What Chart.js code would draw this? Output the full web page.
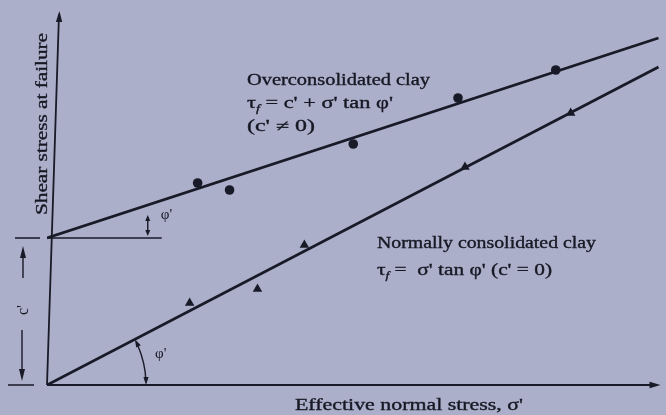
<!DOCTYPE html>
<html>
<head>
<meta charset="utf-8">
<script src="https://cdn.jsdelivr.net/npm/chart.js@4.4.1/dist/chart.umd.min.js"></script>
<style>
  html, body { margin: 0; padding: 0; background: #abafca; }
  #chart { display: block; filter: blur(0.45px); }
</style>
</head>
<body>
<canvas id="chart" width="666" height="415"></canvas>
<script>
// values (arbitrary stress units)
var ocStress = [151, 183, 307, 412, 510];   // overconsolidated clay, circles
var ocShear  = [202, 195, 241, 287, 315];
var ncStress = [143, 211, 258, 419, 525];   // normally consolidated clay, triangles
var ncShear  = [82, 96, 140, 218, 272];
var envStress = [0, 613];                   // failure envelope ends
var ocEnvelope = [147, 347];                // c' + sigma' tan phi'
var ncEnvelope = [0, 318];                  // sigma' tan phi'
var cPrime = ocEnvelope[0];

var ink = '#191a27';

function pts(xs, ys) {
    return xs.map(function(x, i) { return {x: x, y: ys[i]}; });
}

// draws a run of text pieces, stretched to a given width (the scan is wide)
function richText(ctx, parts, x, y, width, size) {
    var w = 0;
    parts.forEach(function(p) {
        ctx.font = (p.sub ? 'italic ' + size * 0.62 : size) + 'px "Liberation Serif", serif';
        w += ctx.measureText(p.t).width;
    });
    ctx.save();
    ctx.translate(x, y);
    ctx.scale(width / w, 1);
    ctx.lineWidth = 0.35;
    ctx.strokeStyle = ctx.fillStyle;
    var cx = 0;
    parts.forEach(function(p) {
        ctx.font = (p.sub ? 'italic ' + size * 0.62 : size) + 'px "Liberation Serif", serif';
        ctx.fillText(p.t, cx, p.sub ? size * 0.28 : 0);
        ctx.strokeText(p.t, cx, p.sub ? size * 0.28 : 0);
        cx += ctx.measureText(p.t).width;
    });
    ctx.restore();
}

function arrowHead(ctx, x, y, ang, len, half) {
    ctx.beginPath();
    ctx.moveTo(x, y);
    ctx.lineTo(x - len * Math.cos(ang) + half * Math.sin(ang), y - len * Math.sin(ang) - half * Math.cos(ang));
    ctx.lineTo(x - len * Math.cos(ang) - half * Math.sin(ang), y - len * Math.sin(ang) + half * Math.cos(ang));
    ctx.closePath();
    ctx.fill();
}

var decor = {
    id: 'decor',
    beforeDraw: function(chart) {
        var ctx = chart.ctx;
        ctx.save();
        ctx.fillStyle = '#abafca';
        ctx.fillRect(0, 0, chart.width, chart.height);
        ctx.restore();
    },
    afterDraw: function(chart) {
        var ctx = chart.ctx, xs = chart.scales.x, ys = chart.scales.y;
        var ox = xs.getPixelForValue(0), oy = ys.getPixelForValue(0);
        var cy = ys.getPixelForValue(cPrime);
        ctx.save();
        ctx.strokeStyle = ink;
        ctx.fillStyle = ink;
        ctx.lineWidth = 1.8;

        // axes (the scanned y axis leans a bit)
        ctx.beginPath();
        ctx.moveTo(ox, oy);
        ctx.lineTo(ox + 12, chart.chartArea.top + 4);
        ctx.moveTo(ox, oy);
        ctx.lineTo(chart.chartArea.right - 4, oy);
        ctx.stroke();
        arrowHead(ctx, ox + 12.4, chart.chartArea.top + 1, -Math.PI / 2 + 0.033, 11, 3.2);
        arrowHead(ctx, chart.chartArea.right, oy, 0, 11, 3.2);

        // horizontal reference at c'
        ctx.lineWidth = 1.4;
        ctx.beginPath();
        ctx.moveTo(ox, cy);
        ctx.lineTo(xs.getPixelForValue(115), cy);
        ctx.stroke();

        // c' dimension
        ctx.beginPath();
        ctx.moveTo(15, cy); ctx.lineTo(40, cy);
        ctx.moveTo(8, oy); ctx.lineTo(34, oy);
        ctx.moveTo(23, cy + 18); ctx.lineTo(23, cy + 40);
        ctx.moveTo(22, oy - 55); ctx.lineTo(22, oy - 12);
        ctx.stroke();
        arrowHead(ctx, 23, cy + 8, -Math.PI / 2, 12, 3);
        arrowHead(ctx, 22, oy - 4, Math.PI / 2, 12, 3);
        ctx.save();
        ctx.translate(28, oy - 75);
        ctx.rotate(-Math.PI / 2);
        ctx.font = '16px "Liberation Serif", serif';
        ctx.textAlign = 'center';
        ctx.fillText("c'", 0, 0);
        ctx.restore();

        // phi' mark on the overconsolidated envelope
        var ax = xs.getPixelForValue(101);
        ctx.beginPath();
        ctx.moveTo(ax, cy - 20); ctx.lineTo(ax, cy - 5);
        ctx.stroke();
        arrowHead(ctx, ax, cy - 23, -Math.PI / 2, 6, 2.5);
        arrowHead(ctx, ax, cy - 2, Math.PI / 2, 6, 2.5);
        ctx.font = '15px "Liberation Serif", serif';
        ctx.fillText("\u03C6'", ax + 13, cy - 19);

        // phi' arc at the origin
        var r = 99;
        var ang = Math.atan((ys.getPixelForValue(0) - ys.getPixelForValue(ncEnvelope[1])) /
                            (xs.getPixelForValue(envStress[1]) - ox));
        ctx.beginPath();
        ctx.arc(ox, oy, r, -ang + 0.07, -0.04);
        ctx.stroke();
        arrowHead(ctx, ox + r * Math.cos(ang), oy - r * Math.sin(ang), -Math.PI / 2 - ang, 8, 2.6);
        arrowHead(ctx, ox + r, oy, Math.PI / 2, 8, 2.6);
        ctx.fillText("\u03C6'", ox + r + 9, oy - 27);

        // labels
        ctx.fillStyle = '#171824';
        richText(ctx, [{t: 'Overconsolidated clay'}], 247, 85, 183, 16);
        richText(ctx, [{t: '\u03C4'}, {t: 'f', sub: true}, {t: " = c' + \u03C3' tan \u03C6'"}], 247, 108, 146, 16);
        richText(ctx, [{t: "(c' \u2260 0)"}], 247, 131, 68, 16);
        richText(ctx, [{t: 'Normally consolidated clay'}], 377, 248, 219, 16);
        richText(ctx, [{t: '\u03C4'}, {t: 'f', sub: true}, {t: " =  \u03C3' tan \u03C6' (c' = 0)"}], 377, 275, 175, 16);
        richText(ctx, [{t: "Effective normal stress, \u03C3'"}], 295, 410, 228, 16);
        ctx.save();
        ctx.translate(47, 215);
        ctx.rotate(-Math.PI / 2);
        richText(ctx, [{t: 'Shear stress at failure'}], 0, 0, 182, 16);
        ctx.restore();

        ctx.restore();
    }
};

new Chart(document.getElementById('chart'), {
    type: 'scatter',
    data: {
        datasets: [
            {
                type: 'line',
                data: pts(envStress, ocEnvelope),
                borderColor: ink,
                borderWidth: 2.8,
                pointRadius: 0
            },
            {
                type: 'line',
                data: pts(envStress, ncEnvelope),
                borderColor: ink,
                borderWidth: 2.8,
                pointRadius: 0
            },
            {
                data: pts(ocStress, ocShear),
                pointStyle: 'circle',
                pointRadius: 4.8,
                backgroundColor: ink,
                borderColor: ink,
                borderWidth: 0
            },
            {
                data: pts(ncStress, ncShear),
                pointStyle: 'triangle',
                pointRadius: 5.5,
                backgroundColor: ink,
                borderColor: ink,
                borderWidth: 0
            }
        ]
    },
    options: {
        responsive: false,
        animation: false,
        layout: { padding: { left: 47, right: 4, top: 10, bottom: 30 } },
        plugins: { legend: { display: false }, tooltip: { enabled: false } },
        scales: {
            x: { type: 'linear', min: 0, max: 615, display: false },
            y: { type: 'linear', min: 0, max: 375, display: false }
        }
    },
    plugins: [decor]
});
</script>
</body>
</html>
